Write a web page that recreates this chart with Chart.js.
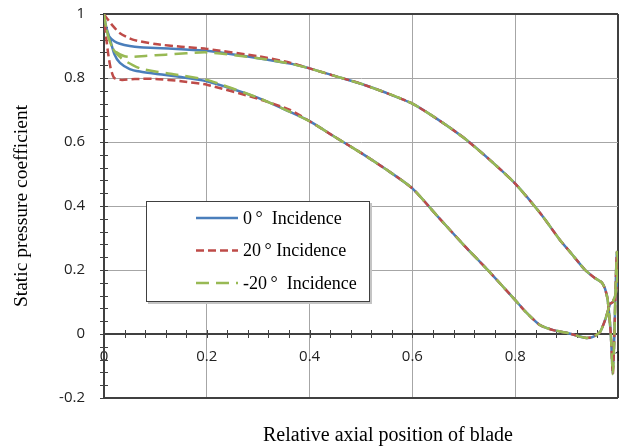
<!DOCTYPE html>
<html>
<head>
<meta charset="utf-8">
<title>Static pressure coefficient</title>
<script src="https://cdn.jsdelivr.net/npm/chart.js@4.4.0/dist/chart.umd.min.js"></script>
<style>
  html, body { margin: 0; padding: 0; background: #fff; }
  #cp { display: block; }
</style>
</head>
<body>
<canvas id="cp" width="623" height="448"></canvas>
<script>
// series names, in legend order
const incidenceLabels = ['0\u2009°  Incidence', '20\u2009° Incidence', '-20\u2009°  Incidence'];

// aft part of the blade, almost identical for every incidence:
// upper surface from 0.4 round the trailing edge and back along the lower surface to 0.4
const tailX = [0.4, 0.45, 0.5, 0.55, 0.6, 0.65, 0.7, 0.75, 0.8, 0.85,
  0.887, 0.91, 0.936, 0.955, 0.969, 0.975, 0.98,
  0.986, 0.99, 0.993, 0.996, 0.998, 1.0,
  0.996, 0.99, 0.985, 0.975, 0.965, 0.95, 0.936,
  0.9, 0.874, 0.848, 0.82, 0.8,
  0.75, 0.7, 0.65, 0.6, 0.55, 0.5, 0.45, 0.4];
const tailY = [0.83, 0.806, 0.782, 0.753, 0.72, 0.67, 0.613, 0.545, 0.47, 0.375,
  0.294, 0.25, 0.2, 0.175, 0.16, 0.14, 0.106,
  0.0, -0.125, 0.0, 0.18, 0.256, 0.22,
  0.13, 0.1, 0.095, 0.044, 0.006, -0.01, -0.012,
  0.004, 0.012, 0.028, 0.07, 0.106,
  0.194, 0.278, 0.366, 0.455, 0.513, 0.566, 0.615, 0.665];

// leading edge region, 0 deg
const upX0 = [0, 0.004, 0.01, 0.02, 0.031, 0.05, 0.07, 0.1, 0.15, 0.2, 0.3, 0.362];
const upY0 = [1.0, 0.96, 0.93, 0.915, 0.907, 0.9, 0.896, 0.894, 0.89, 0.885, 0.862, 0.845];
const loX0 = [0.362, 0.3, 0.2, 0.15, 0.1, 0.07, 0.05, 0.031, 0.02, 0.012, 0.006, 0.002, 0];
const loY0 = [0.694, 0.738, 0.79, 0.803, 0.813, 0.82, 0.828, 0.847, 0.875, 0.92, 0.95, 0.975, 1.0];

// leading edge region, 20 deg
const upX20 = [0, 0.004, 0.01, 0.016, 0.031, 0.056, 0.1, 0.15, 0.2, 0.3, 0.362];
const upY20 = [1.0, 0.99, 0.978, 0.965, 0.94, 0.92, 0.906, 0.898, 0.891, 0.868, 0.848];
const loX20 = [0.362, 0.3, 0.2, 0.15, 0.1, 0.06, 0.035, 0.02, 0.013, 0.008, 0.004, 0];
const loY20 = [0.7, 0.735, 0.779, 0.79, 0.797, 0.797, 0.794, 0.8, 0.83, 0.877, 0.93, 1.0];

// leading edge region, -20 deg
const upXm20 = [0, 0.004, 0.008, 0.015, 0.025, 0.04, 0.05, 0.08, 0.12, 0.2, 0.3, 0.362];
const upYm20 = [1.0, 0.96, 0.93, 0.9, 0.88, 0.868, 0.866, 0.869, 0.873, 0.88, 0.862, 0.845];
const loXm20 = [0.362, 0.3, 0.2, 0.135, 0.1, 0.07, 0.056, 0.035, 0.02, 0.01, 0.004, 0];
const loYm20 = [0.694, 0.738, 0.794, 0.812, 0.82, 0.83, 0.84, 0.86, 0.885, 0.92, 0.96, 1.0];

const minorStep = 0.04;

// closed loop: upper nose -> shared tail -> lower nose
function loop(upX, upY, loX, loY) {
  const xs = upX.concat(tailX, loX);
  const ys = upY.concat(tailY, loY);
  return xs.map((x, i) => ({ x: x, y: ys[i] }));
}

const DARK = '#404040';
const GRID = '#a6a6a6';
const SERIF = '"Liberation Serif", "Times New Roman", serif';
const SANS = '"Open Sans", "Noto Sans", sans-serif';

const isEdge = (v, a, b) => Math.abs(v - a) < 1e-6 || Math.abs(v - b) < 1e-6;

// keep the plot box fixed: no extra room for overhanging end labels
function noOverhang(scale) {
  scale.paddingLeft = 0;
  scale.paddingRight = 0;
  scale.paddingTop = 0;
  scale.paddingBottom = 0;
}

// crossing minor ticks on both axes
const minorTicks = {
  id: 'minorTicks',
  beforeDatasetsDraw(chart) {
    const { ctx, scales: { x, y } } = chart;
    const ax = Math.round(x.getPixelForValue(0));
    const ay = Math.round(y.getPixelForValue(0));
    ctx.save();
    ctx.strokeStyle = DARK;
    ctx.lineWidth = 1;
    ctx.beginPath();
    for (let v = y.min; v <= y.max + 1e-9; v += minorStep) {
      const py = Math.round(y.getPixelForValue(v)) + 0.5;
      ctx.moveTo(ax - 4, py);
      ctx.lineTo(ax + 4, py);
    }
    for (let v = x.min + minorStep; v <= x.max + 1e-9; v += minorStep) {
      const px = Math.round(x.getPixelForValue(v)) + 0.5;
      ctx.moveTo(px, ay - 4);
      ctx.lineTo(px, ay + 4);
    }
    ctx.stroke();
    ctx.restore();
  }
};

// boxed legend inside the plot and the x title under it
const boxLegend = {
  id: 'boxLegend',
  afterDraw(chart) {
    const ctx = chart.ctx;
    const L = 146, T = 201, W = 223, H = 100;
    ctx.save();
    ctx.fillStyle = '#c4c4c4';
    ctx.fillRect(L + 2, T + 2, W + 1, H + 1);
    ctx.fillStyle = '#fff';
    ctx.fillRect(L, T, W, H);
    ctx.strokeStyle = DARK;
    ctx.lineWidth = 1;
    ctx.strokeRect(L + 0.5, T + 0.5, W, H);

    ctx.font = '18px ' + SERIF;
    ctx.textBaseline = 'middle';
    ctx.textAlign = 'left';
    chart.data.datasets.forEach((ds, i) => {
      const yy = 218 + i * 32.5;
      ctx.strokeStyle = ds.borderColor;
      ctx.lineWidth = ds.borderWidth;
      ctx.setLineDash(ds.borderDash || []);
      ctx.beginPath();
      ctx.moveTo(196, yy);
      ctx.lineTo(238, yy);
      ctx.stroke();
      ctx.setLineDash([]);
      ctx.fillStyle = '#000';
      ctx.fillText(ds.label, 243, yy + 1);
    });

    ctx.font = '20px ' + SERIF;
    ctx.textAlign = 'center';
    ctx.textBaseline = 'alphabetic';
    ctx.fillStyle = '#000';
    ctx.fillText('Relative axial position of blade', 388, 441);
    ctx.restore();
  }
};

const ctx = document.getElementById('cp').getContext('2d');

new Chart(ctx, {
  type: 'scatter',
  data: {
    datasets: [
      {
        label: incidenceLabels[0],
        data: loop(upX0, upY0, loX0, loY0),
        borderColor: '#4a7ebb',
        borderWidth: 2.5,
        order: 3
      },
      {
        label: incidenceLabels[1],
        data: loop(upX20, upY20, loX20, loY20),
        borderColor: '#be4b48',
        borderWidth: 2.5,
        borderDash: [8, 4],
        order: 2
      },
      {
        label: incidenceLabels[2],
        data: loop(upXm20, upYm20, loXm20, loYm20),
        borderColor: '#98b954',
        borderWidth: 2.5,
        borderDash: [13, 7],
        order: 1
      }
    ].map(ds => Object.assign(ds, {
      showLine: true,
      fill: false,
      pointRadius: 0,
      pointHoverRadius: 0,
      tension: 0.2,
      backgroundColor: ds.borderColor
    }))
  },
  options: {
    responsive: false,
    devicePixelRatio: 1,
    animation: false,
    events: [],
    layout: { padding: { left: 0, top: 14, right: 5, bottom: 50 } },
    plugins: {
      legend: { display: false },
      tooltip: { enabled: false }
    },
    scales: {
      x: {
        type: 'linear',
        position: { y: 0 },
        min: 0,
        max: 1,
        afterFit(scale) { scale.height = 0; noOverhang(scale); },
        ticks: {
          stepSize: 0.2,
          padding: 14,
          autoSkip: false,
          color: '#222',
          font: { family: SANS, size: 15 },
          maxRotation: 0,
          callback: v => String(Number(v.toFixed(1)))
        },
        grid: {
          drawTicks: false,
          color: c => (c.tick && isEdge(c.tick.value, 1, 1)) ? DARK : GRID,
          lineWidth: c => (c.tick && isEdge(c.tick.value, 1, 1)) ? 2 : 1
        },
        border: { color: DARK, width: 2 }
      },
      y: {
        type: 'linear',
        min: -0.2,
        max: 1,
        afterFit(scale) { scale.width = 104; noOverhang(scale); },
        ticks: {
          stepSize: 0.2,
          padding: 19,
          color: '#222',
          font: { family: SANS, size: 15 },
          callback: v => String(Number(v.toFixed(1)))
        },
        grid: {
          drawTicks: false,
          color: c => (c.tick && isEdge(c.tick.value, 1, -0.2)) ? DARK : GRID,
          lineWidth: c => (c.tick && isEdge(c.tick.value, 1, -0.2)) ? 2 : 1
        },
        border: { color: DARK, width: 2 },
        title: {
          display: true,
          text: 'Static pressure coefficient',
          color: '#000',
          font: { family: SERIF, size: 19.5 },
          padding: { top: 10, bottom: 0 }
        }
      }
    }
  },
  plugins: [minorTicks, boxLegend]
});
</script>
</body>
</html>
